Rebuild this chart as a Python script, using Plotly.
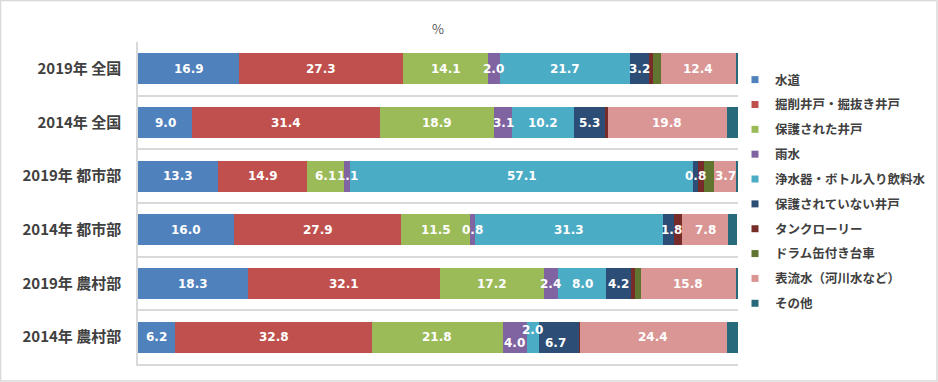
import plotly.graph_objects as go

categories = ["2019年 全国", "2014年 全国", "2019年 都市部", "2014年 都市部", "2019年 農村部", "2014年 農村部"]

series_names = ["水道", "掘削井戸・掘抜き井戸", "保護された井戸", "雨水", "浄水器・ボトル入り飲料水",
                "保護されていない井戸", "タンクローリー", "ドラム缶付き台車", "表流水（河川水など）", "その他"]

tap_water = [16.9, 9.0, 13.3, 16.0, 18.3, 6.2]
drilled_well = [27.3, 31.4, 14.9, 27.9, 32.1, 32.8]
protected_well = [14.1, 18.9, 6.1, 11.5, 17.2, 21.8]
rain_water = [2.0, 3.1, 1.1, 0.8, 2.4, 4.0]
bottled_water = [21.7, 10.2, 57.1, 31.3, 8.0, 2.0]
unprotected_well = [3.2, 5.3, 0.8, 1.8, 4.2, 6.7]
tank_truck = [0.6, 0.4, 1.0, 1.3, 0.6, 0.2]
drum_cart = [1.4, 0.0, 1.7, 0.0, 1.0, 0.0]
surface_water = [12.4, 19.8, 3.7, 7.8, 15.8, 24.4]
other = [0.4, 1.9, 0.3, 1.5, 0.4, 1.9]

series_values = [tap_water, drilled_well, protected_well, rain_water, bottled_water,
                 unprotected_well, tank_truck, drum_cart, surface_water, other]
labeled = [True, True, True, True, True, True, False, False, True, False]

colors = ["#4F81BD", "#C0504D", "#9BBB59", "#8064A2", "#4BACC6",
          "#2C4D75", "#772C2A", "#5F7530", "#D99694", "#276A7C"]

# per-label nudges (row index, series index) -> (xshift, yshift) to avoid overlap
nudges = {(5, 3): (0, -6), (5, 4): (0, 7), (5, 5): (-3, -6), (3, 5): (3, 0)}

fig = go.Figure()
for name, vals, col in zip(series_names, series_values, colors):
    fig.add_trace(go.Bar(y=categories, x=vals, orientation="h", name=name,
                         marker=dict(color=col, line=dict(width=0)),
                         showlegend=False, hoverinfo="x+name"))
# legend proxies with small square markers
for name, col in zip(series_names, colors):
    fig.add_trace(go.Scatter(x=[None], y=[None], mode="markers", name=name,
                             marker=dict(symbol="square", size=7, color=col),
                             legendgroup=name, showlegend=True))

annotations = []
for ci, cat in enumerate(categories):
    cum = 0.0
    for si, vals in enumerate(series_values):
        v = vals[ci]
        if labeled[si]:
            xs, ys = nudges.get((ci, si), (0, 0))
            annotations.append(dict(x=cum + v / 2, y=cat, xref="x", yref="y",
                                    text=f"{v:.1f}", showarrow=False,
                                    xshift=xs, yshift=ys,
                                    font=dict(family="DejaVu Sans", size=12, color="white", weight="bold")))
        cum += v

annotations.append(dict(x=0.5, y=1.0, xref="paper", yref="paper", yanchor="bottom",
                        yshift=2, text="%", showarrow=False,
                        font=dict(family="Noto Sans CJK JP", size=13, color="#595959")))

W, H = 938, 382
ml, mr, mt, mb = 138, 200, 42, 18
pw, ph = W - ml - mr, H - mt - mb

fig.update_layout(
    width=W, height=H,
    margin=dict(l=ml, r=mr, t=mt, b=mb, autoexpand=False),
    barmode="stack", bargap=0.42,
    plot_bgcolor="white", paper_bgcolor="white",
    annotations=annotations,
    xaxis=dict(range=[0, 100], showgrid=False, zeroline=False, showticklabels=False,
               showline=True, linecolor="#D9D9D9", linewidth=1.5,
               fixedrange=True, automargin=False),
    yaxis=dict(categoryorder="array", categoryarray=categories, autorange="reversed",
               tickson="boundaries", showgrid=True, gridcolor="#D9D9D9", gridwidth=1.5,
               showline=True, linecolor="#D9D9D9", linewidth=1.5, ticks="",
               ticklabelstandoff=12, automargin=False,
               tickfont=dict(family="Noto Sans CJK JP", size=15, color="#404040", weight="bold")),
    legend=dict(xref="container", yref="container", x=735 / W, y=(H - 65) / H,
                xanchor="left", yanchor="top", maxheight=340,
                traceorder="grouped", tracegroupgap=5.6, itemwidth=30,
                font=dict(family="Noto Sans CJK JP", size=12.5, color="#404040", weight="bold"),
                bgcolor="rgba(0,0,0,0)"),
    shapes=[dict(type="rect", xref="paper", yref="paper",
                 x0=(0.5 - ml) / pw, x1=(W - 1 - ml) / pw,
                 y0=(mt + ph - (H - 1)) / ph, y1=(mt + ph - 0.5) / ph,
                 line=dict(color="#D9D9D9", width=1.5), fillcolor="rgba(0,0,0,0)", layer="below")],
)

fig.write_html("out.html", config={"displayModeBar": False},
               post_script="document.body.style.margin='0';document.body.style.padding='0';")
